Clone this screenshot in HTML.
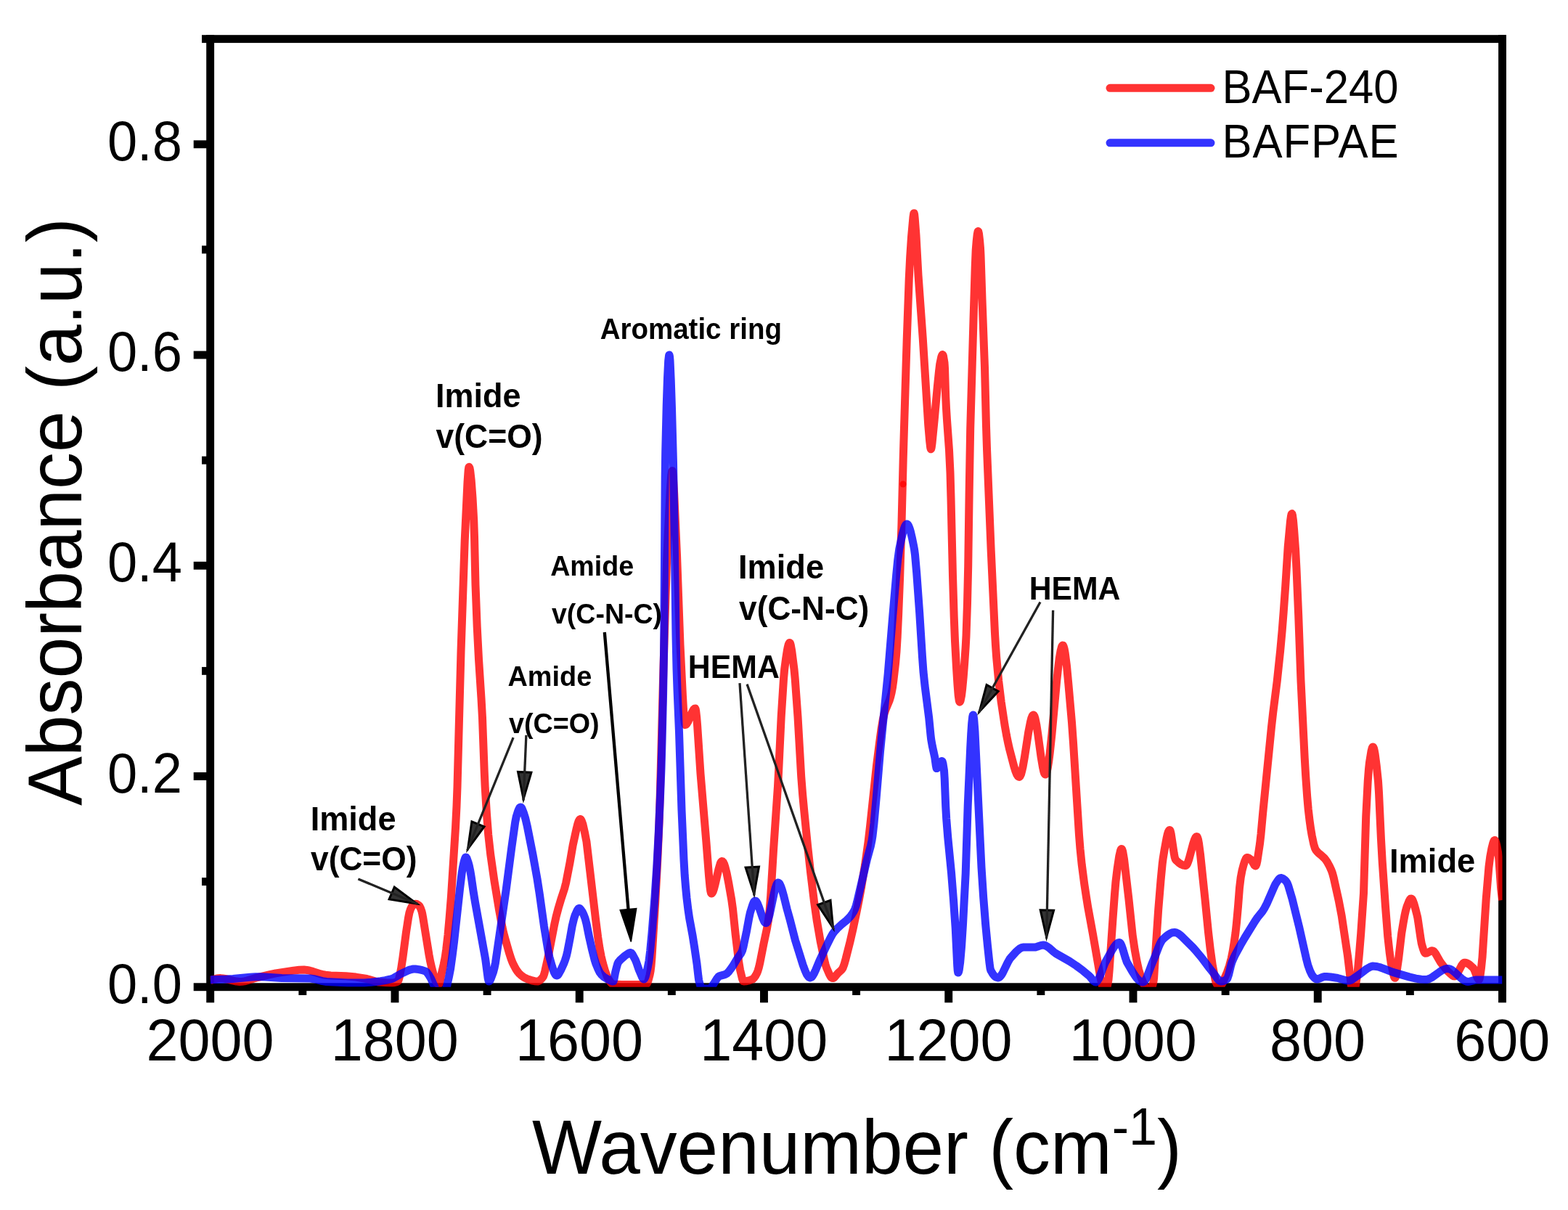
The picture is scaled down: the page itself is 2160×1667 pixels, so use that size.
<!DOCTYPE html><html><head><meta charset="utf-8"><title>FTIR spectra</title><style>html,body{margin:0;padding:0;background:#fff;overflow:hidden}svg{display:block}</style></head><body><svg width="2160" height="1667" viewBox="0 0 2160 1667"><g fill="#000"><rect x="284.2" y="48.2" width="10.9" height="1317.0"/><rect x="2064.1" y="48.2" width="10.9" height="1317.0"/><rect x="278" y="48.2" width="1797.0" height="10.9"/><rect x="266.7" y="1354.3" width="1808.3" height="10.9"/><rect x="278" y="1209.14" width="7.20" height="10.9"/><rect x="266.7" y="1064.02" width="18.50" height="10.9"/><rect x="278" y="918.91" width="7.20" height="10.9"/><rect x="266.7" y="773.80" width="18.50" height="10.9"/><rect x="278" y="628.69" width="7.20" height="10.9"/><rect x="266.7" y="483.57" width="18.50" height="10.9"/><rect x="278" y="338.46" width="7.20" height="10.9"/><rect x="266.7" y="193.35" width="18.50" height="10.9"/><rect x="2064.05" y="1364.2" width="10.9" height="17.10"/><rect x="1936.92" y="1364.2" width="10.9" height="6.80"/><rect x="1809.79" y="1364.2" width="10.9" height="17.10"/><rect x="1682.66" y="1364.2" width="10.9" height="6.80"/><rect x="1555.54" y="1364.2" width="10.9" height="17.10"/><rect x="1428.41" y="1364.2" width="10.9" height="6.80"/><rect x="1301.28" y="1364.2" width="10.9" height="17.10"/><rect x="1174.15" y="1364.2" width="10.9" height="6.80"/><rect x="1047.02" y="1364.2" width="10.9" height="17.10"/><rect x="919.89" y="1364.2" width="10.9" height="6.80"/><rect x="792.76" y="1364.2" width="10.9" height="17.10"/><rect x="665.64" y="1364.2" width="10.9" height="6.80"/><rect x="538.51" y="1364.2" width="10.9" height="17.10"/><rect x="411.38" y="1364.2" width="10.9" height="6.80"/><rect x="284.25" y="1364.2" width="10.9" height="17.10"/></g><g font-family="Liberation Sans, Arial, sans-serif" fill="#000"><text transform="translate(250.8 1381.7) scale(1 1.04)" font-size="74" font-weight="normal" text-anchor="end" >0.0</text><text transform="translate(250.8 1091.5) scale(1 1.04)" font-size="74" font-weight="normal" text-anchor="end" >0.2</text><text transform="translate(250.8 801.2) scale(1 1.04)" font-size="74" font-weight="normal" text-anchor="end" >0.4</text><text transform="translate(250.8 511.0) scale(1 1.04)" font-size="74" font-weight="normal" text-anchor="end" >0.6</text><text transform="translate(250.8 220.8) scale(1 1.04)" font-size="74" font-weight="normal" text-anchor="end" >0.8</text><text transform="translate(2069.2 1460.5) scale(1 1.04)" font-size="79.1" font-weight="normal" text-anchor="middle" >600</text><text transform="translate(1814.9 1460.5) scale(1 1.04)" font-size="79.1" font-weight="normal" text-anchor="middle" >800</text><text transform="translate(1560.7 1460.5) scale(1 1.04)" font-size="79.1" font-weight="normal" text-anchor="middle" >1000</text><text transform="translate(1306.4 1460.5) scale(1 1.04)" font-size="79.1" font-weight="normal" text-anchor="middle" >1200</text><text transform="translate(1052.2 1460.5) scale(1 1.04)" font-size="79.1" font-weight="normal" text-anchor="middle" >1400</text><text transform="translate(797.9 1460.5) scale(1 1.04)" font-size="79.1" font-weight="normal" text-anchor="middle" >1600</text><text transform="translate(543.7 1460.5) scale(1 1.04)" font-size="79.1" font-weight="normal" text-anchor="middle" >1800</text><text transform="translate(289.4 1460.5) scale(1 1.04)" font-size="79.1" font-weight="normal" text-anchor="middle" >2000</text></g><g font-family="Liberation Sans, Arial, sans-serif" fill="#000"><text transform="translate(733 1617.1) scale(1 1.04)" font-size="101.7">Wavenumber (cm<tspan font-size="70" dy="-38.8">-1</tspan><tspan dy="38.8">)</tspan></text><text transform="translate(111.8 1110) rotate(-90) scale(1 1.04)" font-size="101.9">Absorbance (a.u.)</text></g><defs><clipPath id="pc"><rect x="289.7" y="40" width="1779.8" height="1319.7"/></clipPath></defs><g clip-path="url(#pc)" fill="none" stroke-width="11" stroke-linejoin="round" stroke-linecap="butt"><path d="M289.7,1350.7 L294.2,1349.2 L297.7,1348.2 L300.9,1347.7 L303.9,1347.6 L306.9,1347.9 L310.2,1348.4 L321.4,1351.2 L325.7,1352.1 L329.9,1352.5 L333.7,1352.3 L336.7,1351.9 L340.2,1351.0 L354.9,1346.6 L371.7,1342.6 L379.9,1340.9 L404.4,1337.1 L412.2,1336.3 L418.9,1336.1 L422.7,1336.4 L426.7,1337.2 L430.9,1338.4 L441.9,1341.9 L445.4,1342.8 L448.4,1343.3 L455.7,1343.9 L476.4,1344.8 L490.2,1346.1 L505.2,1348.5 L517.2,1352.1 L522.0,1353.0 L532.0,1353.8 L540.0,1354.0 L543.0,1353.7 L546.0,1352.9 L548.2,1351.9 L549.2,1349.8 L550.5,1345.0 L552.7,1333.7 L555.0,1318.4 L559.5,1284.3 L562.5,1264.7 L564.0,1257.2 L565.7,1252.0 L567.5,1248.6 L568.7,1247.4 L570.5,1246.1 L571.7,1245.5 L573.0,1245.3 L574.0,1245.5 L575.2,1246.1 L576.7,1247.2 L578.0,1248.5 L579.5,1251.5 L581.0,1255.8 L581.7,1258.8 L582.7,1264.2 L591.0,1315.5 L592.7,1324.5 L595.0,1334.5 L598.2,1346.1 L600.2,1351.6 L601.7,1353.9 L603.5,1355.6 L604.5,1356.0 L604.7,1355.9 L605.2,1355.2 L606.2,1351.7 L608.2,1341.5 L611.2,1328.7 L613.0,1319.9 L614.7,1307.9 L617.0,1288.1 L619.2,1263.6 L621.5,1234.6 L627.5,1140.3 L629.0,1110.7 L630.0,1084.1 L635.0,897.8 L640.2,744.7 L644.0,664.4 L645.2,647.5 L645.7,644.2 L646.0,643.4 L646.2,643.3 L647.0,644.8 L647.7,648.5 L649.2,661.8 L651.0,685.8 L652.7,716.8 L653.5,739.6 L655.0,805.9 L657.2,863.6 L659.5,908.2 L663.0,962.1 L664.5,989.0 L667.2,1062.7 L668.2,1084.8 L670.5,1121.9 L672.7,1150.0 L675.7,1177.0 L681.0,1214.0 L687.5,1253.4 L692.0,1277.5 L693.7,1285.1 L696.0,1293.7 L701.2,1312.0 L704.0,1320.7 L706.0,1326.0 L708.0,1330.1 L710.7,1335.1 L713.2,1338.8 L715.2,1341.2 L717.5,1343.3 L720.5,1345.6 L723.2,1347.3 L726.0,1348.6 L729.5,1349.8 L733.2,1351.0 L736.5,1351.7 L740.5,1352.0 L741.5,1351.8 L742.7,1351.2 L744.2,1350.1 L746.0,1348.5 L748.0,1346.1 L748.7,1344.7 L749.7,1341.9 L750.7,1338.0 L755.0,1318.8 L763.7,1273.7 L766.0,1263.2 L769.2,1251.0 L773.2,1237.7 L777.5,1224.6 L779.7,1216.0 L785.0,1188.6 L789.2,1164.2 L794.2,1141.5 L795.7,1135.6 L797.2,1131.1 L798.5,1129.0 L799.0,1128.6 L799.5,1128.5 L800.2,1129.0 L801.2,1130.7 L803.0,1135.9 L805.2,1145.6 L808.0,1159.8 L820.5,1266.2 L823.7,1291.3 L826.0,1306.3 L828.2,1317.8 L830.5,1327.2 L833.7,1338.2 L836.2,1345.2 L837.7,1348.2 L841.2,1353.3 L843.2,1355.3 L844.2,1355.8 L845.0,1356.0 L856.5,1356.4 L870.0,1356.5 L880.7,1356.4 L890.0,1356.0 L890.7,1355.7 L891.5,1354.6 L892.2,1353.1 L893.2,1350.2 L895.0,1343.4 L896.2,1337.1 L897.0,1330.5 L898.0,1318.6 L902.7,1243.0 L906.0,1180.7 L908.0,1134.0 L909.2,1098.6 L914.0,918.6 L917.0,820.9 L918.7,770.3 L920.0,741.0 L923.2,675.7 L924.7,655.1 L925.5,649.7 L926.0,648.5 L926.2,648.7 L926.5,649.6 L927.2,655.8 L928.7,680.4 L932.5,764.5 L937.0,888.5 L940.5,959.5 L941.5,976.7 L942.5,989.9 L943.5,997.4 L944.0,998.6 L945.0,998.3 L946.2,997.0 L947.7,994.5 L953.2,981.6 L955.5,977.5 L956.7,976.3 L957.7,976.0 L958.2,977.1 L958.7,979.6 L959.7,988.3 L960.7,1000.8 L965.0,1065.9 L973.0,1161.0 L976.5,1206.4 L978.0,1221.8 L978.7,1227.1 L979.5,1230.3 L980.0,1231.0 L980.5,1230.9 L981.2,1230.1 L982.2,1228.3 L983.2,1225.5 L985.2,1218.1 L990.0,1197.2 L992.2,1189.7 L993.2,1187.6 L994.2,1186.6 L994.7,1186.5 L995.2,1186.7 L996.5,1188.1 L997.5,1190.1 L998.7,1193.7 L1001.0,1202.6 L1003.7,1216.4 L1007.7,1239.2 L1009.5,1252.3 L1013.2,1287.6 L1017.7,1325.1 L1019.5,1335.9 L1022.5,1348.5 L1023.5,1351.1 L1024.0,1351.8 L1024.5,1352.0 L1027.5,1351.8 L1030.5,1351.2 L1033.7,1350.2 L1037.0,1348.9 L1038.7,1347.3 L1040.5,1344.8 L1043.0,1340.1 L1044.2,1336.8 L1045.5,1332.4 L1047.0,1325.8 L1052.0,1300.2 L1056.5,1279.1 L1058.5,1267.3 L1060.2,1253.4 L1061.7,1234.0 L1065.5,1171.4 L1071.5,1083.3 L1072.7,1060.9 L1076.2,987.2 L1079.5,935.3 L1080.7,921.8 L1082.7,906.7 L1084.2,897.0 L1085.2,891.8 L1086.2,887.9 L1087.2,885.8 L1087.7,885.4 L1088.0,885.4 L1088.5,886.0 L1089.2,888.3 L1090.7,896.4 L1094.0,922.3 L1095.2,935.1 L1099.0,987.3 L1103.7,1069.8 L1105.7,1095.2 L1108.0,1119.6 L1112.7,1166.6 L1116.7,1202.8 L1121.5,1242.2 L1125.2,1268.0 L1130.2,1297.0 L1135.7,1323.1 L1137.2,1329.1 L1138.5,1333.1 L1142.5,1342.4 L1144.0,1345.1 L1145.2,1346.7 L1146.5,1347.6 L1147.7,1347.6 L1148.7,1347.1 L1149.7,1346.2 L1154.7,1340.3 L1159.0,1336.5 L1160.2,1334.9 L1161.0,1333.7 L1163.0,1328.4 L1165.0,1321.2 L1171.0,1297.5 L1175.0,1280.1 L1179.7,1257.9 L1183.2,1240.4 L1186.7,1221.4 L1191.7,1190.9 L1196.0,1160.2 L1198.5,1139.0 L1207.5,1054.5 L1211.5,1023.1 L1214.2,1003.6 L1216.2,991.8 L1218.2,983.1 L1220.2,977.1 L1225.2,965.1 L1226.7,960.2 L1228.0,955.0 L1229.5,946.9 L1230.7,938.5 L1233.5,914.4 L1235.0,897.5 L1236.2,877.4 L1237.7,844.9 L1239.7,794.2 L1242.0,721.2 L1244.2,632.7 L1247.0,538.8 L1249.2,468.2 L1252.2,384.3 L1253.7,354.1 L1255.5,326.6 L1258.0,298.8 L1258.7,294.3 L1259.0,293.7 L1259.2,293.7 L1259.7,296.0 L1260.2,300.8 L1262.0,324.4 L1265.0,379.2 L1271.2,465.4 L1278.7,585.0 L1280.7,608.2 L1281.7,616.7 L1282.2,618.6 L1282.5,618.8 L1282.7,618.4 L1283.2,616.4 L1284.0,610.8 L1287.2,578.1 L1291.2,533.9 L1293.5,511.6 L1294.7,501.7 L1296.7,492.1 L1297.5,489.7 L1298.2,488.5 L1298.7,488.6 L1299.5,490.6 L1301.0,499.6 L1301.5,507.4 L1302.7,546.1 L1303.5,562.4 L1304.5,578.7 L1307.5,620.2 L1309.0,651.2 L1310.0,686.6 L1312.5,793.4 L1314.2,849.9 L1315.5,883.3 L1317.5,919.7 L1319.0,943.2 L1320.2,958.0 L1321.2,965.1 L1321.7,966.7 L1322.0,967.0 L1322.5,966.7 L1323.2,964.9 L1324.5,958.5 L1325.7,948.5 L1327.2,932.5 L1328.7,913.2 L1330.2,891.2 L1331.0,876.1 L1332.5,831.4 L1333.7,780.3 L1335.2,675.3 L1336.7,590.3 L1341.0,440.6 L1343.2,368.9 L1344.2,344.4 L1345.2,332.1 L1346.2,323.1 L1347.0,319.2 L1347.2,318.6 L1347.5,318.5 L1347.7,318.8 L1348.5,322.1 L1349.5,330.6 L1350.5,342.0 L1351.0,351.8 L1353.0,412.6 L1356.5,506.4 L1358.5,587.1 L1359.5,618.2 L1365.2,758.5 L1370.5,872.6 L1371.5,889.4 L1372.7,906.0 L1375.7,938.3 L1379.2,967.0 L1384.0,998.7 L1386.5,1012.9 L1389.0,1025.1 L1390.7,1032.4 L1396.7,1055.4 L1398.7,1061.9 L1400.7,1066.9 L1402.5,1069.6 L1403.5,1070.3 L1404.2,1070.4 L1405.2,1069.5 L1406.5,1066.7 L1407.7,1062.3 L1409.0,1056.7 L1411.5,1042.5 L1416.7,1008.9 L1419.5,994.5 L1420.7,989.8 L1422.0,986.5 L1422.7,985.4 L1423.2,985.1 L1423.7,985.0 L1424.2,985.4 L1425.0,986.8 L1426.0,989.9 L1428.0,999.7 L1429.7,1011.0 L1434.2,1043.7 L1436.5,1057.2 L1437.7,1062.7 L1438.7,1065.6 L1439.2,1066.4 L1439.7,1066.9 L1440.2,1067.0 L1440.7,1066.6 L1441.2,1065.7 L1442.0,1063.7 L1443.2,1058.4 L1444.7,1049.2 L1446.2,1037.5 L1449.0,1011.2 L1455.7,938.1 L1457.5,921.5 L1459.2,907.5 L1461.0,896.9 L1462.5,891.1 L1463.2,889.6 L1464.0,889.0 L1464.5,889.2 L1465.2,890.6 L1466.2,894.3 L1467.2,899.8 L1469.5,917.5 L1471.7,940.7 L1476.5,995.3 L1478.5,1023.4 L1486.5,1150.5 L1488.0,1169.5 L1490.2,1191.0 L1493.7,1217.8 L1496.5,1236.2 L1498.7,1249.8 L1505.5,1286.9 L1515.5,1344.5 L1519.2,1362.2 L1520.2,1365.9 L1521.0,1367.6 L1521.5,1368.0 L1522.2,1367.6 L1523.0,1366.4 L1523.7,1364.4 L1525.5,1357.7 L1527.0,1349.7 L1528.2,1335.9 L1533.0,1265.7 L1535.5,1231.8 L1537.0,1214.3 L1539.2,1196.2 L1541.7,1179.7 L1543.5,1172.0 L1544.2,1170.2 L1545.0,1169.5 L1545.2,1169.6 L1545.7,1170.2 L1546.7,1173.3 L1548.5,1183.6 L1555.0,1239.3 L1560.2,1288.5 L1563.2,1308.7 L1566.5,1326.5 L1568.7,1336.1 L1571.5,1345.3 L1573.5,1350.7 L1579.0,1363.5 L1581.0,1366.7 L1582.0,1367.6 L1582.7,1368.0 L1583.5,1367.9 L1584.2,1367.3 L1585.7,1364.4 L1587.2,1359.7 L1588.7,1353.4 L1589.2,1350.8 L1589.7,1346.1 L1592.5,1300.7 L1595.7,1253.0 L1599.0,1213.0 L1601.2,1190.0 L1602.2,1182.3 L1604.0,1171.5 L1607.0,1154.9 L1608.2,1149.6 L1609.2,1146.4 L1610.2,1144.3 L1610.7,1143.8 L1611.2,1143.5 L1611.7,1143.8 L1612.2,1144.8 L1613.2,1148.8 L1617.2,1175.6 L1618.2,1180.9 L1619.0,1183.5 L1619.5,1184.4 L1621.0,1186.0 L1624.5,1189.1 L1627.5,1191.0 L1630.2,1192.1 L1632.0,1192.4 L1633.5,1192.5 L1634.5,1191.8 L1635.5,1190.2 L1636.7,1187.2 L1638.0,1183.4 L1643.2,1163.8 L1645.5,1156.8 L1646.7,1154.2 L1648.0,1152.7 L1648.5,1152.5 L1649.0,1152.7 L1649.7,1154.0 L1650.5,1156.6 L1651.5,1161.9 L1653.5,1176.9 L1660.2,1240.6 L1664.5,1284.1 L1667.2,1307.5 L1670.2,1329.3 L1674.0,1349.3 L1675.2,1353.9 L1676.2,1355.9 L1677.7,1357.0 L1679.2,1357.7 L1680.7,1358.0 L1681.7,1357.8 L1683.0,1356.4 L1684.2,1354.1 L1690.5,1339.1 L1693.5,1330.5 L1696.2,1320.3 L1698.2,1310.4 L1700.2,1297.9 L1702.0,1285.0 L1703.5,1271.1 L1705.5,1248.9 L1707.5,1223.1 L1709.2,1209.0 L1711.0,1199.4 L1713.2,1191.1 L1714.7,1186.5 L1716.2,1183.1 L1717.0,1182.0 L1717.7,1181.5 L1718.7,1181.5 L1720.0,1181.9 L1723.2,1184.2 L1724.5,1185.8 L1728.0,1191.9 L1729.2,1193.0 L1729.7,1192.9 L1730.0,1192.7 L1731.0,1190.3 L1732.0,1185.8 L1735.5,1162.5 L1737.0,1149.3 L1739.7,1119.7 L1751.5,1001.5 L1753.7,982.0 L1759.2,938.8 L1763.7,896.2 L1766.2,868.6 L1768.2,843.0 L1770.7,807.8 L1774.2,753.4 L1777.5,718.1 L1778.5,711.0 L1779.0,708.8 L1779.5,707.8 L1779.7,707.7 L1780.0,708.1 L1780.5,709.9 L1781.5,717.2 L1782.7,731.2 L1784.7,758.7 L1786.0,783.8 L1788.7,847.6 L1792.0,937.9 L1797.2,1044.0 L1798.7,1069.3 L1800.7,1097.7 L1802.2,1114.8 L1804.0,1130.2 L1805.5,1141.0 L1807.2,1151.0 L1809.7,1163.0 L1811.5,1168.9 L1812.7,1171.1 L1814.5,1173.4 L1816.0,1174.9 L1820.0,1178.2 L1824.2,1182.1 L1826.2,1184.5 L1828.2,1187.4 L1831.2,1192.8 L1834.0,1198.9 L1835.5,1203.0 L1837.2,1209.3 L1844.2,1240.7 L1848.2,1261.8 L1856.5,1317.0 L1861.0,1354.7 L1861.5,1358.2 L1862.0,1360.0 L1864.2,1360.8 L1866.2,1360.9 L1866.7,1360.0 L1867.5,1357.2 L1870.0,1340.9 L1872.7,1311.0 L1874.7,1286.4 L1878.5,1230.7 L1881.7,1125.2 L1884.2,1076.7 L1885.5,1059.6 L1886.5,1050.4 L1889.0,1034.9 L1890.0,1031.0 L1890.5,1029.7 L1891.0,1029.1 L1891.2,1029.0 L1891.7,1029.3 L1892.5,1030.9 L1893.2,1033.8 L1894.2,1039.3 L1896.2,1054.6 L1898.5,1076.3 L1899.5,1092.0 L1902.5,1156.8 L1904.2,1186.9 L1908.5,1249.0 L1911.7,1289.8 L1914.2,1312.5 L1916.2,1326.7 L1919.5,1342.5 L1920.5,1345.8 L1921.2,1347.1 L1921.7,1347.3 L1922.0,1347.1 L1922.5,1346.0 L1923.2,1342.9 L1924.0,1338.7 L1926.7,1320.1 L1930.7,1286.0 L1933.0,1272.0 L1935.0,1261.0 L1936.5,1254.2 L1938.0,1249.1 L1941.0,1241.5 L1942.2,1239.3 L1943.2,1238.2 L1944.0,1238.0 L1944.7,1238.3 L1945.5,1239.3 L1946.2,1240.6 L1947.7,1244.6 L1949.7,1251.7 L1952.2,1261.5 L1953.0,1265.2 L1957.0,1292.5 L1958.2,1299.6 L1959.0,1302.6 L1960.7,1308.1 L1961.7,1310.8 L1962.7,1312.6 L1963.2,1313.1 L1963.7,1313.3 L1965.2,1313.1 L1966.7,1312.5 L1970.5,1310.5 L1972.5,1309.8 L1973.7,1309.9 L1975.0,1310.6 L1976.2,1311.9 L1977.7,1314.0 L1984.2,1325.4 L1991.2,1334.5 L1994.7,1338.5 L1999.0,1342.4 L2001.0,1344.1 L2002.7,1344.9 L2003.7,1345.0 L2004.5,1344.8 L2005.5,1344.0 L2006.5,1342.8 L2008.5,1339.6 L2013.2,1330.4 L2014.5,1328.5 L2015.7,1327.1 L2016.7,1326.4 L2017.7,1326.2 L2019.5,1326.5 L2021.5,1327.2 L2023.2,1328.2 L2025.2,1329.7 L2029.7,1333.8 L2031.2,1336.7 L2035.2,1347.1 L2036.5,1349.1 L2037.0,1349.5 L2037.5,1349.6 L2037.7,1349.4 L2038.2,1348.2 L2039.2,1343.1 L2040.5,1333.2 L2042.0,1318.8 L2047.2,1238.6 L2050.9,1194.7 L2052.7,1180.6 L2054.9,1168.8 L2056.7,1161.6 L2057.7,1158.9 L2058.4,1157.8 L2059.2,1157.5 L2059.9,1158.4 L2060.7,1160.3 L2061.7,1164.1 L2063.7,1175.0 L2064.4,1179.9 L2064.9,1184.8 L2067.7,1224.6 L2069.5,1240.0" stroke="#ff0000" stroke-opacity="0.8"/><circle cx="1244" cy="667" r="4.5" fill="#ff0000" fill-opacity="0.75" stroke="none"/><path d="M289.7,1349.7 L312.9,1349.1 L320.9,1348.5 L344.4,1346.2 L351.7,1345.8 L358.4,1345.7 L365.7,1346.0 L388.2,1347.5 L427.4,1348.0 L432.4,1348.7 L444.2,1351.6 L449.7,1352.5 L464.7,1353.3 L478.9,1353.9 L494.2,1354.1 L501.9,1353.9 L511.2,1353.2 L524.2,1351.7 L530.7,1350.6 L537.0,1349.2 L540.5,1348.2 L542.5,1347.3 L552.0,1341.7 L562.7,1336.8 L565.5,1335.8 L567.7,1335.3 L569.7,1335.0 L572.2,1335.0 L577.0,1335.6 L581.7,1336.6 L586.2,1338.1 L588.0,1339.4 L590.2,1342.4 L593.7,1348.3 L598.2,1358.4 L600.5,1364.1 L601.5,1365.7 L602.0,1366.0 L612.0,1366.0 L612.5,1365.9 L613.2,1365.0 L614.0,1363.5 L615.7,1358.0 L618.2,1346.9 L620.7,1334.1 L623.2,1316.0 L625.5,1297.8 L633.5,1224.6 L636.2,1202.7 L637.5,1194.6 L639.2,1187.0 L640.5,1182.8 L641.2,1181.3 L641.7,1181.0 L642.2,1181.2 L643.0,1182.4 L645.2,1188.6 L646.5,1193.5 L648.0,1200.9 L649.2,1208.2 L652.0,1227.6 L654.5,1242.8 L668.7,1321.6 L672.2,1348.0 L673.0,1351.2 L673.5,1352.0 L674.0,1351.9 L675.0,1350.9 L676.2,1348.4 L679.5,1339.3 L681.0,1333.6 L682.5,1326.3 L697.2,1225.6 L704.7,1168.2 L709.7,1132.8 L711.2,1125.1 L713.7,1117.3 L714.7,1114.8 L715.7,1113.0 L716.5,1112.2 L717.2,1112.0 L718.0,1112.4 L719.0,1113.9 L721.0,1118.8 L723.7,1127.2 L726.2,1137.9 L734.2,1178.4 L740.0,1210.6 L743.2,1231.2 L749.5,1276.3 L755.0,1309.6 L757.0,1319.0 L760.5,1331.2 L763.0,1338.7 L764.0,1340.9 L765.0,1342.7 L766.2,1343.9 L767.2,1344.0 L768.5,1343.2 L769.7,1341.7 L772.5,1336.6 L776.5,1327.9 L778.2,1323.5 L780.2,1317.3 L781.7,1310.9 L785.2,1292.8 L788.2,1275.8 L790.5,1266.2 L792.2,1260.7 L795.0,1254.5 L796.5,1252.1 L797.2,1251.5 L798.0,1251.3 L798.7,1251.6 L799.7,1252.6 L802.5,1256.7 L804.2,1260.4 L806.0,1265.2 L808.0,1272.9 L811.7,1291.3 L815.7,1309.0 L819.0,1322.0 L820.7,1327.3 L824.0,1335.3 L826.2,1339.7 L828.5,1342.8 L831.7,1345.8 L835.5,1348.2 L842.0,1351.4 L843.7,1351.9 L845.0,1351.9 L845.7,1350.0 L847.7,1339.3 L849.5,1332.2 L850.7,1327.9 L851.7,1325.7 L854.0,1322.9 L860.2,1317.3 L866.0,1313.3 L867.5,1312.7 L868.7,1312.5 L870.0,1313.2 L871.2,1314.8 L875.5,1322.9 L876.7,1326.0 L880.2,1336.1 L884.7,1346.7 L885.7,1348.2 L886.5,1348.9 L887.2,1348.9 L887.7,1348.5 L889.0,1346.0 L890.2,1341.8 L892.0,1334.1 L894.0,1323.7 L895.7,1309.8 L898.0,1285.6 L902.0,1235.8 L904.7,1195.1 L907.2,1149.0 L909.7,1092.0 L911.0,1058.0 L912.2,1015.2 L913.5,959.7 L914.5,903.1 L915.0,852.2 L916.2,656.5 L916.7,622.3 L918.2,559.1 L919.5,520.7 L920.7,496.8 L921.5,490.1 L921.7,489.2 L922.0,489.0 L922.5,491.2 L923.0,496.8 L924.2,523.2 L925.5,562.5 L927.5,638.1 L929.2,740.0 L931.0,875.6 L932.0,920.6 L933.0,949.8 L935.5,1008.5 L939.0,1116.0 L942.0,1184.4 L943.2,1205.8 L944.5,1221.8 L946.0,1237.4 L948.0,1253.8 L949.7,1265.2 L954.2,1289.6 L956.7,1305.3 L960.0,1327.9 L962.0,1345.5 L962.7,1350.6 L964.7,1358.1 L965.7,1360.6 L966.5,1361.7 L967.0,1362.0 L978.0,1362.0 L979.0,1361.5 L983.2,1355.3 L987.5,1348.4 L989.7,1345.6 L990.7,1344.9 L992.2,1344.3 L997.7,1342.9 L999.7,1342.1 L1001.5,1341.0 L1003.5,1339.1 L1006.0,1335.8 L1010.5,1329.3 L1016.2,1319.7 L1020.7,1313.5 L1022.5,1309.9 L1024.2,1303.5 L1028.5,1282.8 L1032.0,1263.7 L1033.5,1256.9 L1037.0,1246.0 L1038.2,1243.1 L1039.2,1241.6 L1040.2,1241.0 L1041.2,1241.4 L1042.2,1242.5 L1043.5,1244.7 L1045.5,1249.7 L1050.5,1264.6 L1052.7,1269.6 L1053.7,1270.9 L1054.7,1271.6 L1055.2,1271.7 L1055.7,1271.5 L1056.5,1270.7 L1057.2,1269.3 L1058.2,1266.7 L1060.0,1260.5 L1066.0,1232.0 L1068.0,1223.8 L1069.7,1218.6 L1070.7,1216.8 L1071.5,1216.1 L1072.0,1216.0 L1072.7,1216.3 L1073.5,1217.0 L1074.2,1218.0 L1075.7,1221.3 L1077.2,1225.6 L1079.5,1233.7 L1084.2,1252.6 L1088.2,1267.0 L1095.5,1295.4 L1106.2,1329.6 L1109.0,1337.1 L1111.2,1342.1 L1113.5,1345.5 L1114.5,1346.4 L1115.5,1346.9 L1116.7,1346.9 L1118.2,1346.0 L1119.7,1344.1 L1121.2,1341.5 L1123.5,1336.7 L1128.7,1324.1 L1137.5,1305.2 L1144.0,1292.0 L1147.2,1286.3 L1150.0,1282.7 L1153.2,1279.2 L1159.7,1273.3 L1166.2,1268.0 L1170.0,1264.2 L1172.2,1261.5 L1174.2,1258.7 L1176.0,1255.8 L1177.7,1252.3 L1179.2,1248.0 L1180.7,1242.4 L1194.5,1183.6 L1199.5,1165.2 L1201.0,1158.0 L1202.0,1151.7 L1204.0,1134.1 L1207.2,1098.9 L1212.5,1035.4 L1223.2,928.2 L1229.7,849.6 L1234.7,792.1 L1236.7,771.8 L1238.7,756.9 L1241.5,743.4 L1243.5,734.7 L1245.0,729.4 L1246.5,725.2 L1248.0,722.7 L1248.7,722.1 L1249.2,722.0 L1249.7,722.1 L1250.5,722.7 L1251.7,724.7 L1253.0,727.8 L1254.5,732.9 L1256.2,740.2 L1258.5,751.3 L1259.5,756.7 L1260.5,764.3 L1262.7,789.2 L1266.7,844.4 L1270.5,904.8 L1272.0,925.4 L1274.0,944.5 L1279.7,989.0 L1282.0,1012.7 L1282.7,1018.8 L1284.2,1027.2 L1287.7,1043.2 L1289.2,1054.1 L1290.0,1058.1 L1290.2,1058.6 L1290.5,1058.6 L1291.0,1058.4 L1291.7,1057.6 L1294.0,1054.3 L1296.5,1049.2 L1297.2,1048.4 L1297.7,1048.4 L1298.2,1049.2 L1299.0,1052.0 L1300.5,1061.6 L1301.2,1072.6 L1302.7,1110.7 L1303.7,1128.1 L1305.7,1153.2 L1310.5,1202.1 L1313.5,1239.8 L1316.2,1278.6 L1318.7,1330.1 L1319.2,1336.8 L1319.7,1339.9 L1320.0,1340.0 L1320.5,1339.2 L1321.2,1336.4 L1322.7,1325.4 L1324.5,1304.8 L1326.5,1273.7 L1330.2,1203.3 L1333.2,1110.3 L1336.7,1030.6 L1337.7,1011.6 L1338.7,996.7 L1339.7,987.5 L1340.2,985.4 L1340.5,985.0 L1340.7,985.2 L1341.0,985.9 L1341.7,991.1 L1343.0,1008.0 L1352.0,1194.9 L1354.7,1236.5 L1357.7,1274.2 L1360.5,1303.1 L1363.0,1326.6 L1364.0,1334.0 L1364.7,1336.7 L1367.5,1341.6 L1369.7,1344.4 L1371.0,1345.5 L1372.2,1346.3 L1374.0,1346.9 L1375.5,1346.9 L1377.0,1346.1 L1378.5,1344.6 L1380.0,1342.5 L1381.5,1339.9 L1388.2,1326.0 L1391.2,1320.8 L1392.5,1319.2 L1399.7,1311.3 L1402.5,1308.7 L1404.7,1306.9 L1407.2,1305.6 L1409.5,1305.0 L1426.5,1304.9 L1428.7,1304.3 L1434.2,1302.4 L1437.2,1302.0 L1439.7,1302.5 L1442.2,1303.8 L1445.0,1305.7 L1451.5,1311.4 L1454.5,1313.6 L1473.0,1324.1 L1482.7,1330.5 L1491.7,1337.2 L1500.2,1344.2 L1501.7,1345.8 L1505.5,1350.5 L1507.0,1351.9 L1508.5,1352.8 L1509.7,1353.0 L1510.5,1352.6 L1511.5,1351.7 L1513.5,1348.6 L1515.7,1343.5 L1520.5,1330.8 L1522.5,1326.0 L1532.2,1308.4 L1535.0,1304.1 L1537.5,1301.0 L1539.7,1299.2 L1541.0,1298.6 L1542.0,1298.5 L1542.7,1298.8 L1543.5,1299.6 L1545.2,1303.2 L1546.7,1307.6 L1550.5,1320.3 L1552.2,1325.2 L1559.7,1338.3 L1564.2,1345.2 L1566.2,1347.8 L1568.2,1349.9 L1570.0,1351.3 L1571.7,1352.4 L1573.5,1352.9 L1575.0,1352.9 L1576.0,1352.4 L1577.2,1351.0 L1578.5,1349.0 L1580.0,1345.9 L1586.7,1328.1 L1590.7,1318.7 L1596.2,1304.3 L1598.2,1299.8 L1600.0,1296.5 L1601.2,1294.8 L1604.0,1292.1 L1607.0,1289.5 L1609.7,1287.5 L1612.0,1286.1 L1614.0,1285.2 L1616.0,1284.7 L1618.0,1284.5 L1619.7,1284.7 L1621.7,1285.5 L1623.7,1286.6 L1625.7,1288.1 L1629.2,1291.3 L1643.5,1305.5 L1648.7,1311.4 L1655.2,1319.2 L1666.0,1333.6 L1671.0,1339.9 L1676.0,1346.9 L1678.5,1349.9 L1680.2,1351.3 L1681.7,1351.9 L1683.5,1351.9 L1685.5,1351.5 L1687.5,1350.6 L1689.7,1349.2 L1690.5,1348.5 L1691.0,1347.6 L1692.5,1343.1 L1695.5,1330.7 L1697.0,1325.7 L1699.0,1320.9 L1701.2,1316.2 L1708.7,1302.3 L1714.7,1292.0 L1728.5,1269.6 L1732.2,1264.1 L1739.0,1255.7 L1741.7,1251.6 L1745.2,1244.7 L1755.0,1222.3 L1756.7,1218.6 L1760.0,1213.5 L1761.7,1211.1 L1763.2,1209.8 L1764.5,1209.5 L1766.0,1209.8 L1767.7,1210.7 L1769.5,1212.0 L1771.7,1214.2 L1773.2,1216.5 L1774.7,1220.2 L1780.0,1238.1 L1789.7,1277.4 L1799.7,1321.7 L1801.7,1329.5 L1804.5,1337.3 L1807.0,1342.6 L1808.0,1344.1 L1810.2,1346.7 L1811.5,1347.9 L1812.7,1348.7 L1814.0,1349.0 L1815.5,1348.8 L1817.2,1348.3 L1821.5,1346.4 L1823.2,1345.8 L1824.7,1345.5 L1827.5,1345.6 L1833.0,1346.0 L1841.2,1347.2 L1844.5,1348.0 L1851.5,1350.1 L1854.5,1350.7 L1857.2,1351.0 L1859.2,1350.8 L1861.5,1350.0 L1864.2,1348.3 L1872.2,1342.8 L1880.0,1336.8 L1883.2,1334.5 L1888.5,1331.7 L1890.0,1331.2 L1891.2,1331.0 L1895.7,1331.4 L1900.5,1332.5 L1905.0,1334.1 L1918.7,1339.4 L1942.0,1346.1 L1950.5,1348.1 L1957.7,1349.3 L1964.5,1349.6 L1966.5,1349.3 L1968.7,1348.5 L1971.0,1347.4 L1973.7,1345.8 L1983.0,1339.1 L1986.7,1336.7 L1990.7,1335.0 L1992.5,1334.5 L1994.2,1334.4 L1995.7,1334.6 L1997.2,1335.0 L2000.5,1336.7 L2004.2,1339.7 L2011.5,1346.5 L2014.5,1349.1 L2017.7,1351.2 L2020.7,1352.3 L2022.2,1352.5 L2024.2,1352.3 L2031.0,1350.4 L2033.5,1350.0 L2069.5,1350.0" stroke="#0000ff" stroke-opacity="0.8"/></g><g stroke-width="11" stroke-linecap="round"><line x1="1529" y1="121.3" x2="1668" y2="121.3" stroke="#ff0000" stroke-opacity="0.8"/><line x1="1529" y1="196.8" x2="1668" y2="196.8" stroke="#0000ff" stroke-opacity="0.8"/></g><g font-family="Liberation Sans, Arial, sans-serif" font-size="61.6" fill="#000"><text transform="translate(1683.5 142.2) scale(1 1.04)">BAF-240</text><text transform="translate(1683.5 217.4) scale(1 1.04)" letter-spacing="0.95">BAFPAE</text></g><g font-family="Liberation Sans, Arial, sans-serif" font-weight="bold" fill="#000"><text transform="translate(600 560.5) scale(1 1.04)" font-size="45" font-weight="bold" text-anchor="start" >Imide</text><text transform="translate(600.5 616.5) scale(1 1.04)" font-size="44.5" font-weight="bold" text-anchor="start" >v(C=O)</text><text transform="translate(826.7 466.5) scale(1 1.04)" font-size="38.5" font-weight="bold" text-anchor="start" >Aromatic ring</text><text transform="translate(758.2 792.8) scale(1 1.04)" font-size="37.6" font-weight="bold" text-anchor="start" >Amide</text><text transform="translate(760 859.2) scale(1 1.04)" font-size="37.5" font-weight="bold" text-anchor="start" >v(C-N-C)</text><text transform="translate(699.5 944.9) scale(1 1.04)" font-size="37.9" font-weight="bold" text-anchor="start" >Amide</text><text transform="translate(701 1009.6) scale(1 1.04)" font-size="37.7" font-weight="bold" text-anchor="start" >v(C=O)</text><text transform="translate(1017 796.5) scale(1 1.04)" font-size="45.2" font-weight="bold" text-anchor="start" >Imide</text><text transform="translate(1018.1 853.75) scale(1 1.04)" font-size="44.2" font-weight="bold" text-anchor="start" >v(C-N-C)</text><text transform="translate(947.8 933.75) scale(1 1.04)" font-size="42.8" font-weight="bold" text-anchor="start" >HEMA</text><text transform="translate(1417.7 825.5) scale(1 1.04)" font-size="42.7" font-weight="bold" text-anchor="start" >HEMA</text><text transform="translate(427.7 1143.7) scale(1 1.04)" font-size="45.1" font-weight="bold" text-anchor="start" >Imide</text><text transform="translate(428 1199.4) scale(1 1.04)" font-size="44.3" font-weight="bold" text-anchor="start" >v(C=O)</text><text transform="translate(1914 1202.1) scale(1 1.04)" font-size="45.3" font-weight="bold" text-anchor="start" >Imide</text></g><g><polygon points="573.8,1244.9 536.1,1238.9 543.3,1222.0" fill="#333" stroke="#000" stroke-width="3" stroke-linejoin="miter" stroke-miterlimit="10"/><line x1="493.4" y1="1210.9" x2="575.6" y2="1245.6" stroke="#222" stroke-width="3.3"/><polygon points="644.5,1169.6 649.9,1131.9 667.0,1138.9" fill="#333" stroke="#000" stroke-width="3" stroke-linejoin="miter" stroke-miterlimit="10"/><line x1="707.1" y1="1016.2" x2="643.7" y2="1171.5" stroke="#222" stroke-width="3.3"/><polygon points="721.1,1100.8 713.5,1063.4 731.9,1064.2" fill="#333" stroke="#000" stroke-width="3" stroke-linejoin="miter" stroke-miterlimit="10"/><line x1="724.9" y1="1012.8" x2="721.0" y2="1102.8" stroke="#222" stroke-width="3.3"/><line x1="832.8" y1="871" x2="865.5" y2="1252.7" stroke="#000" stroke-width="4.3"/><polygon points="869.3,1297.5 854.2,1253.6 876.7,1251.7" fill="#000" stroke="#000" stroke-width="1.5" stroke-linejoin="miter"/><polygon points="1038.8,1231.5 1027.1,1195.2 1045.5,1194.0" fill="#333" stroke="#000" stroke-width="3" stroke-linejoin="miter" stroke-miterlimit="10"/><line x1="1019" y1="941.1" x2="1038.9" y2="1233.5" stroke="#222" stroke-width="3.3"/><polygon points="1147.6,1278.3 1126.6,1246.5 1144.0,1240.4" fill="#333" stroke="#000" stroke-width="3" stroke-linejoin="miter" stroke-miterlimit="10"/><line x1="1029.1" y1="942.6" x2="1148.3" y2="1280.2" stroke="#222" stroke-width="3.3"/><polygon points="1349.2,980.3 1359.1,943.4 1375.2,952.4" fill="#333" stroke="#000" stroke-width="3" stroke-linejoin="miter" stroke-miterlimit="10"/><line x1="1433" y1="829.5" x2="1348.2" y2="982.0" stroke="#222" stroke-width="3.3"/><polygon points="1441.6,1291.0 1433.2,1253.8 1451.6,1254.2" fill="#333" stroke="#000" stroke-width="3" stroke-linejoin="miter" stroke-miterlimit="10"/><line x1="1450.6" y1="840.7" x2="1441.6" y2="1293.0" stroke="#222" stroke-width="3.3"/></g></svg></body></html>
